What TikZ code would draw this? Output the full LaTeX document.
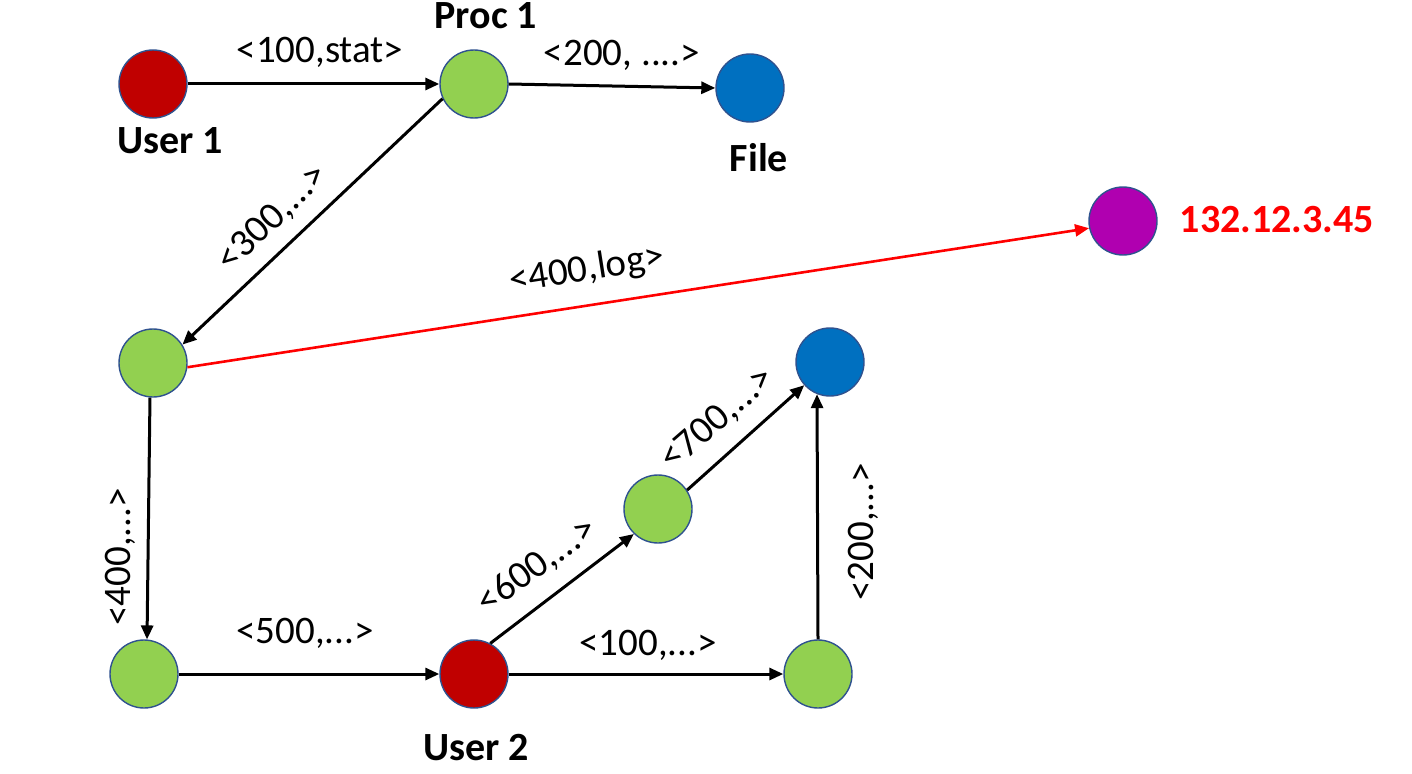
\documentclass[tikz,border=0pt]{standalone}
\usepackage{fontspec}
\setmainfont{Carlito}
\usetikzlibrary{arrows.meta}
\definecolor{cred}{HTML}{C00000}
\definecolor{cgreen}{HTML}{92D050}
\definecolor{cblue}{HTML}{0070C0}
\definecolor{cpurple}{HTML}{B000B0}
\definecolor{cborder}{HTML}{2F528F}
\tikzset{
  vert/.style={circle, draw=cborder, line width=1.4pt, minimum size=68pt, inner sep=0pt},
  edge/.style={line width=3pt, -{Triangle[length=14pt,width=12pt]}},
  elab/.style={font=\fontsize{39}{42}\selectfont, inner sep=0pt},
  nlab/.style={font=\fontsize{40}{43}\selectfont\bfseries, inner sep=0pt},
}
\begin{document}
\begin{tikzpicture}[x=1pt,y=-1pt]
\useasboundingbox (0,0) rectangle (1412,773);
% vertices
\node[vert, fill=cred]    (u1) at (153,84) {};
\node[vert, fill=cgreen]  (p1) at (474,84) {};
\node[vert, fill=cblue]   (f1) at (750,88) {};
\node[vert, fill=cpurple] (ip) at (1123,221) {};
\node[vert, fill=cgreen]  (n4) at (153,363) {};
\node[vert, fill=cblue]   (b2) at (830,362) {};
\node[vert, fill=cgreen]  (n7) at (658,509) {};
\node[vert, fill=cgreen]  (n5) at (144,674) {};
\node[vert, fill=cred]    (u2) at (474,674) {};
\node[vert, fill=cgreen]  (n9) at (818,674) {};
% node names
\node[nlab] (tp1) at (486,16) {Proc 1};
\node[nlab] (tu1) at (170,141) {User 1};
\node[nlab] (tf1) at (759,158) {File};
\node[nlab, text=red] (tip) at (1277,220) {132.12.3.45};
\node[nlab] (tu2) at (476,748) {User 2};
% edges
\draw[edge] (u1) -- (p1);
\draw[edge] (p1.east) -- (f1.180);
\draw[edge] (p1.205) -- (n4.32);
\draw[edge, red, line width=2.6pt] (n4.-7) -- (ip.192);
\draw[edge] (n4.265) -- (n5.85);
\draw[edge] (n5) -- (u2);
\draw[edge] (u2.east) -- (n9.west);
\draw[edge] (u2.62) -- (n7.226);
\draw[edge] (n7.33) -- (b2.222);
\draw[edge] (n9.north) -- (b2.248);
% edge labels
\node[elab] (l1) at (320,52) {<100,stat>};
\node[elab] (l2) at (622,55) {<200, ....>};
\node[elab, rotate=44] (l3) at (273,218) {<300,...>};
\node[elab, rotate=9] (l4) at (587,270) {<400,log>};
\node[elab, rotate=90] (l5) at (120,557) {<400,...>};
\node[elab] (l6) at (305,633) {<500,...>};
\node[elab, rotate=36] (l7) at (537,566) {<600,...>};
\node[elab, rotate=41] (l8) at (718,419) {<700,...>};
\node[elab] (l9) at (648,645) {<100,...>};
\node[elab, rotate=90] (l10) at (863,532) {<200,...>};
\end{tikzpicture}
\end{document}
